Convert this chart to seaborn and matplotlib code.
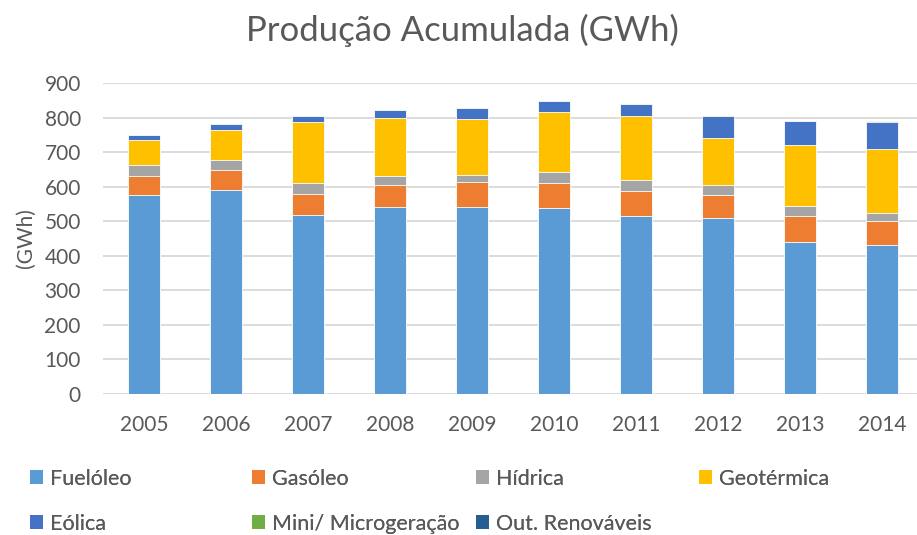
import numpy as np
import pandas as pd
import seaborn as sns
import matplotlib.pyplot as plt
from matplotlib.patches import Patch

years = ["2005", "2006", "2007", "2008", "2009", "2010", "2011", "2012", "2013", "2014"]
fueloleo = [575, 589, 518, 540, 540, 539, 516, 508, 441, 432]
gasoleo = [56, 59, 61, 65, 73, 71, 72, 69, 75, 70]
hidrica = [31, 29, 31, 26, 22, 31, 32, 29, 29, 22]
geotermica = [72, 86, 178, 169, 162, 174, 185, 135, 175, 184]
eolica = [15, 17, 16, 23, 32, 34, 35, 63, 69, 80]
micro = [0, 0, 0, 0, 0, 0, 0, 0, 1, 1]
out_renov = [0, 0, 0, 0, 0, 0, 0, 0, 0, 0]

series = ["Fuelóleo", "Gasóleo", "Hídrica", "Geotérmica", "Eólica",
          "Mini/ Microgeração", "Out. Renováveis"]
values = [fueloleo, gasoleo, hidrica, geotermica, eolica, micro, out_renov]
colors = ["#5B9BD5", "#ED7D31", "#A5A5A5", "#FFC000", "#4472C4", "#70AD47", "#255E91"]

sns.set_theme(style="white")
plt.rcParams["font.family"] = ["Lato", "DejaVu Sans"]
txt = "#595959"

fig = plt.figure(figsize=(9.17, 5.35), dpi=100)
ax = fig.add_axes([103 / 917, 1 - 394 / 535, 820 / 917, 311 / 535])

df = pd.DataFrame(dict(zip(series, values)), index=years)
cum = df.cumsum(axis=1)

# stacked bars: draw cumulative totals from top layer down
for name, col in reversed(list(zip(series, colors))):
    sns.barplot(x=cum.index, y=cum[name].values, color=col, width=0.4,
                saturation=1, edgecolor="white", linewidth=0.6, ax=ax, zorder=3)

ax.set_ylim(0, 900)
ax.set_yticks(range(0, 901, 100))
ax.set_xlim(-0.5, 9.5)
ax.grid(axis="y", color="#D9D9D9", linewidth=1.3, zorder=0)
ax.set_axisbelow(True)
for s in ax.spines.values():
    s.set_visible(False)
ax.tick_params(length=0, labelsize=15, labelcolor=txt)
ax.tick_params(axis="y", pad=16)
ax.tick_params(axis="x", pad=15)
ax.set_xlabel("")
ax.set_ylabel("(GWh)", fontsize=15, color=txt, labelpad=6)

fig.text(462 / 917, 1 - 30 / 535, "Produção Acumulada (GWh)", ha="center",
         va="center", fontsize=25, color=txt)

# legend: four equal-width columns, as in the original
handles = [Patch(facecolor=c, edgecolor="none") for c in colors]
cols_x = [30, 252, 476, 699]
for i, x in enumerate(cols_x):
    idx = [j for j in (i, i + 4) if j < len(series)]
    leg = fig.legend([handles[j] for j in idx], [series[j] for j in idx],
                     loc="upper left", bbox_to_anchor=(x / 917, 1 - 469 / 535),
                     frameon=False, fontsize=15.5, labelcolor=txt,
                     handlelength=0.62, handleheight=0.62, handletextpad=0.3,
                     labelspacing=1.15, borderaxespad=0, borderpad=0)
    fig.add_artist(leg)

fig.savefig("out.png", dpi=100)
